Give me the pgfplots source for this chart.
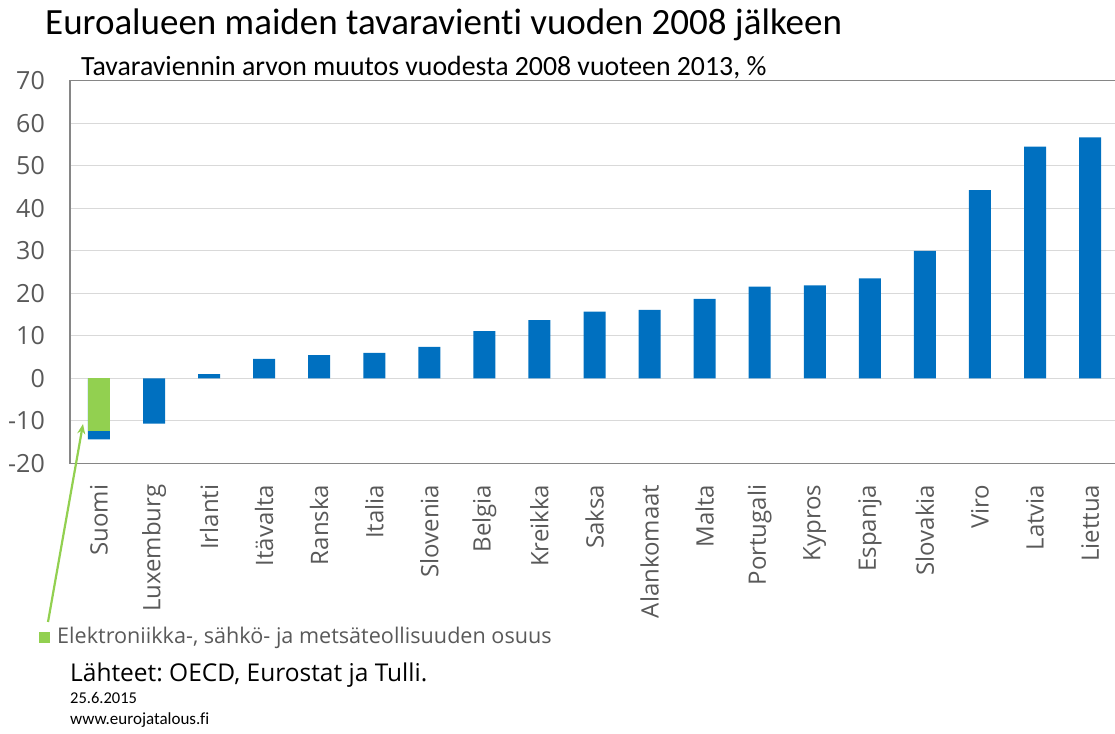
\documentclass[border=0pt]{standalone}
\usepackage{fontspec}
\usepackage{pgfplots}
\pgfplotsset{compat=1.18}
\usetikzlibrary{arrows.meta}
\newfontfamily\calfont[Ligatures=NoCommon]{Carlito}
\newfontfamily\osfont{Open Sans}
\definecolor{barblue}{HTML}{0070C0}
\definecolor{bargreen}{HTML}{92D050}
\definecolor{txtgray}{HTML}{595959}
\definecolor{gridgray}{HTML}{D9D9D9}
\definecolor{framegray}{HTML}{868686}
\frenchspacing
\begin{document}
\begin{tikzpicture}
\useasboundingbox (0,0) rectangle (1115pt,733pt);
\begin{axis}[
  at={(70pt,269.5pt)}, anchor=south west,
  scale only axis, width=1050pt, height=382.8pt,
  xmin=-0.5267, xmax=18.544, ymin=-20, ymax=70,
  ytick={-20,-10,0,10,20,30,40,50,60,70},
  yticklabels={-20,-10,0,10,20,30,40,50,60,70},
  xtick={0,...,18},
  xticklabels={Suomi,Luxemburg,Irlanti,Itävalta,Ranska,Italia,Slovenia,Belgia,Kreikka,Saksa,Alankomaat,Malta,Portugali,Kypros,Espanja,Slovakia,Viro,Latvia,Liettua},
  major tick length=0pt,
  ymajorgrids, grid style={gridgray, line width=1pt},
  axis line style={framegray, line width=1.2pt},
  ticklabel style={font=\osfont\fontsize{24}{28}\selectfont, text=txtgray, inner sep=0pt},
  yticklabel style={anchor=east, font=\osfont\fontsize{25}{28}\selectfont},
  xticklabel style={rotate=90, anchor=east},
  xticklabel shift=21pt, yticklabel shift=25pt,
  ybar, bar width=22pt,
]
\addplot[fill=barblue, draw=none, bar shift=0pt] coordinates {
(0,-14.3) (1,-10.6) (2,1.0) (3,4.6) (4,5.5) (5,6.0) (6,7.4) (7,11.1) (8,13.7) (9,15.7)
(10,16.1) (11,18.7) (12,21.6) (13,21.9) (14,23.5) (15,30.0) (16,44.3) (17,54.5) (18,56.7)};
\addplot[fill=bargreen, draw=none, bar shift=0pt] coordinates {(0,-12.4)};
\end{axis}
\draw[bargreen, line width=2.2pt, -{Stealth[length=10pt,width=8pt]}] (48pt,111pt) -- (83pt,309pt);
\node[anchor=base west, inner sep=0pt, font=\calfont\fontsize{37}{44}\selectfont] at (45pt,698pt) {Euroalueen maiden tavaravient\kern0pt i vuoden 2008 jälkeen};
\node[anchor=base west, inner sep=0pt, font=\calfont\fontsize{27.8}{32}\selectfont] at (81pt,657pt) {Tavaraviennin arvon muutos vuodesta 2008 vuoteen 2013, \%};
\fill[bargreen] (39pt,90pt) rectangle (50pt,101pt);
\node[anchor=base west, inner sep=0pt, text=txtgray, font=\osfont\fontsize{21.6}{26}\selectfont] at (57pt,89pt) {Elektroniikka-, sähkö- ja metsäteollisuuden osuus};
\node[anchor=base west, inner sep=0pt, font=\osfont\fontsize{24.5}{28}\selectfont] at (70pt,52pt) {Lähteet: OECD, Eurostat ja Tulli.};
\node[anchor=base west, inner sep=0pt, font=\calfont\fontsize{16.5}{20}\selectfont] at (70pt,30pt) {25.6.2015};
\node[anchor=base west, inner sep=0pt, font=\calfont\fontsize{17}{20}\selectfont] at (70pt,9pt) {www.eurojatalous.fi};
\end{tikzpicture}
\end{document}
